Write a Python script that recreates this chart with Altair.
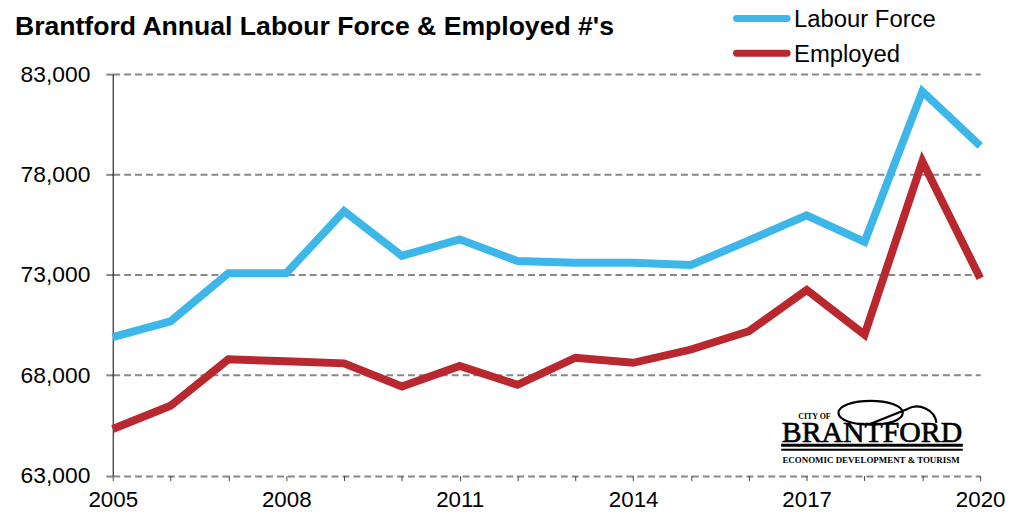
import altair as alt
import pandas as pd

years = list(range(2005, 2021))
labour_force = [69900, 70680, 73080, 73080, 76170, 73950, 74770, 73690,
                73600, 73600, 73490, 74720, 75960, 74640, 82140, 79420]
employed = [65320, 66480, 68790, 68700, 68590, 67440, 68460, 67520,
            68870, 68620, 69280, 70190, 72250, 70020, 78650, 72830]
series_names = ["Labour Force", "Employed"]
series_colors = ["#3DB7E9", "#B8282E"]
y_ticks = [63000, 68000, 73000, 78000, 83000]
title_text = "Brantford Annual  Labour Force & Employed #'s"
logo_texts = ["CITY OF", "BRANTFORD", "ECONOMIC DEVELOPMENT & TOURISM"]

rows = []
for y, v in zip(years, labour_force):
    rows.append({"Year": y, "Value": v, "Series": "Labour Force"})
for y, v in zip(years, employed):
    rows.append({"Year": y, "Value": v, "Series": "Employed"})
df = pd.DataFrame(rows)

FONT = "Liberation Sans"
SERIF = "Liberation Serif"
W, H = 874, 404.5

lines = alt.Chart(df).mark_line(strokeWidth=8, strokeJoin="miter").encode(
    x=alt.X("Year:Q",
            scale=alt.Scale(domain=[2005, 2020], nice=False, zero=False),
            axis=alt.Axis(values=years, format="d", title=None, domain=False,
                          grid=False, tickSize=5, tickColor="#444", tickWidth=1,
                          labelExpr="(datum.value - 2005) % 3 == 0 ? datum.label : ''",
                          labelFontSize=22.5, labelFont=FONT, labelColor="#000",
                          labelPadding=8, labelFlush=False)),
    y=alt.Y("Value:Q",
            scale=alt.Scale(domain=[63000, 83000], nice=False, zero=False),
            axis=alt.Axis(values=y_ticks, format=",d", title=None,
                          grid=True, gridDash=[7, 4], gridColor="#888", gridWidth=2,
                          domain=True, domainColor="#000", domainWidth=1,
                          tickSize=7, tickColor="#888", tickWidth=2,
                          labelFontSize=23, labelFont=FONT, labelColor="#000",
                          labelPadding=16)),
    color=alt.Color("Series:N",
                    scale=alt.Scale(domain=series_names, range=series_colors),
                    legend=None),
    order="Year:Q",
)

one = pd.DataFrame({"a": [0]})

def label(text, size, x, y, font=FONT, weight="normal", align="left", stroke=None):
    kw = dict(font=font, fontSize=size, fontWeight=weight, align=align,
              baseline="alphabetic", color="#000")
    if stroke:
        kw.update(stroke="#000", strokeWidth=stroke)
    return alt.Chart(pd.DataFrame({"t": [text]})).mark_text(**kw).encode(
        text="t:N", x=alt.value(x), y=alt.value(y))

def hrule(x1, x2, y, color, width, cap="butt"):
    return alt.Chart(one).mark_rule(strokeWidth=width, color=color, strokeCap=cap).encode(
        x=alt.value(x1), x2=alt.value(x2), y=alt.value(y))

title = label(title_text, 26.8, -98.5, -39.5, weight="bold")

legend_layers = []
for i, (name, col) in enumerate(zip(series_names, series_colors)):
    cy = -56 + i * 35
    legend_layers.append(hrule(628.5, 679.5, cy, col, 7, cap="round"))
    legend_layers.append(label(name, 24, 686.5, cy + 8.7))

logo_city = label(logo_texts[0], 8, 707, 347.3, font=SERIF, weight="bold", align="center")
logo_main = label(logo_texts[1], 30, 765, 370.3, font=SERIF, align="center", stroke=0.7)
logo_sub = label(logo_texts[2], 9, 764, 392.3, font=SERIF, weight="bold", align="center")
logo_r1 = hrule(673.5, 856.5, 374, "#000", 3)
logo_r2 = hrule(673.5, 856.5, 378.5, "#000", 2)
swoosh_path = ("M-0.92,0 C-0.92,-0.4 0.7,-0.4 0.7,0 C0.7,0.4 -0.92,0.4 -0.92,0 "
               "M-0.17,0.3 L0.82,-0.1 C1.1,-0.25 1.5,-0.1 1.55,0.25")
logo_swoosh = alt.Chart(one).mark_point(
    shape=swoosh_path, filled=False, stroke="#000", strokeWidth=2.2, size=6400, opacity=1
).encode(x=alt.value(768), y=alt.value(341.3))

chart = alt.layer(lines, title, *legend_layers, logo_swoosh, logo_city, logo_main,
                  logo_sub, logo_r1, logo_r2).properties(
    width=W, height=H,
    autosize=alt.AutoSizeParams(type="none"),
    padding={"left": 105.5, "top": 64.7, "right": 25, "bottom": 40},
    background="white",
).configure_view(strokeWidth=0)

chart.save("out.html", embed_options={"renderer": "svg", "actions": False})
